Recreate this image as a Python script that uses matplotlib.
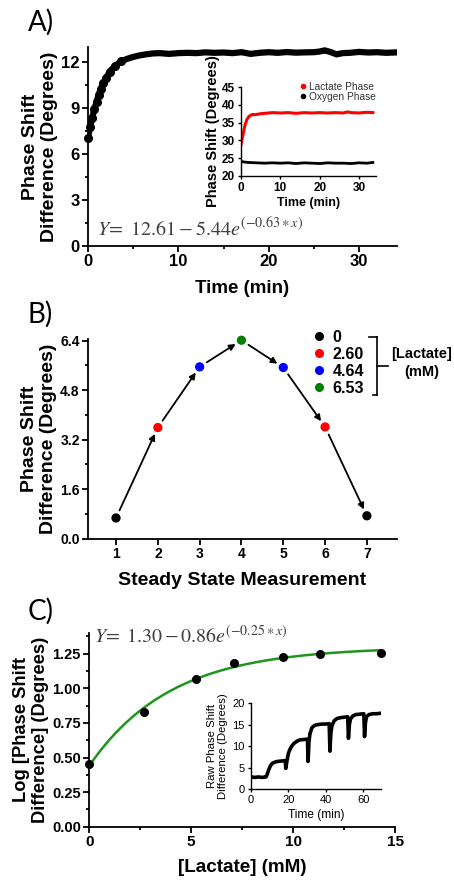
import numpy as np
import matplotlib
matplotlib.use("Agg")
import matplotlib.pyplot as plt
from matplotlib.lines import Line2D
from matplotlib.ticker import MultipleLocator, FormatStrFormatter

plt.rcParams['font.family'] = ['Liberation Sans', 'DejaVu Sans']
plt.rcParams['axes.labelweight'] = 'bold'
plt.rcParams['mathtext.fontset'] = 'stix'

# ---- panel A: phase shift difference vs time
time_a = [0, 0.22, 0.48, 0.7, 0.95, 1.17, 1.43, 1.68, 2.0, 2.4, 3.0, 3.7, 4.3, 5.0, 5.7,
          6.4, 7.2, 7.9, 9, 10, 11, 12, 13, 14, 15, 16, 17, 18, 19, 20, 21, 22, 23, 24,
          25, 25.6, 26.2, 26.8, 27.5, 28.2, 29, 30, 31, 32, 33, 34.2]
shift_a = [7.07, 7.78, 8.39, 8.93, 9.43, 9.87, 10.28, 10.63, 10.96, 11.39, 11.78, 12.07,
           12.22, 12.35, 12.45, 12.52, 12.58, 12.6, 12.55, 12.6, 12.62, 12.6, 12.65, 12.62,
           12.64, 12.6, 12.66, 12.55, 12.62, 12.66, 12.62, 12.67, 12.63, 12.65, 12.66, 12.7,
           12.78, 12.68, 12.52, 12.6, 12.62, 12.68, 12.64, 12.66, 12.62, 12.65]
fit_a = (12.61, 5.44, 0.63)  # Y = a - b*exp(-k*x)

# inset A: raw phases
time_lac = [0, 0.3, 0.7, 1.0, 1.5, 2.0, 2.5, 3.0, 3.5, 4, 5, 6, 7, 8, 10, 12, 14, 16, 18,
            20, 22, 24, 26, 27, 28, 30, 32, 33.5]
lac_phase = [28.8, 30.5, 32.7, 34.2, 35.9, 36.7, 37.1, 37.3, 37.2, 37.3, 37.5, 37.6, 37.7,
             37.8, 37.7, 37.8, 37.6, 37.8, 37.7, 37.8, 37.7, 37.8, 37.7, 38.0, 37.8, 37.7,
             37.9, 37.8]
time_oxy = [0, 1, 2, 4, 6, 8, 10, 12, 14, 16, 18, 20, 22, 24, 26, 28, 30, 32, 33.5]
oxy_phase = [24.1, 23.9, 23.8, 23.7, 23.6, 23.7, 23.6, 23.7, 23.5, 23.7, 23.6, 23.5, 23.7,
             23.6, 23.6, 23.5, 23.7, 23.6, 23.8]

# ---- panel B: steady state measurements
meas_b = [1, 2, 3, 4, 5, 6, 7]
shift_b = [0.67, 3.59, 5.55, 6.41, 5.53, 3.61, 0.74]
lactate_b = ['0', '2.60', '4.64', '6.53', '4.64', '2.60', '0']
lactate_levels = ['0', '2.60', '4.64', '6.53']
level_colors = {'0': 'black', '2.60': '#ff0000', '4.64': '#0000ff', '6.53': '#008000'}

# ---- panel C: log phase shift vs lactate
lactate_c = [0, 2.7, 5.25, 7.11, 9.49, 11.32, 14.31]
logshift_c = [0.455, 0.83, 1.064, 1.185, 1.23, 1.247, 1.255]
fit_c = (1.30, 0.86, 0.25)

# inset C: raw trace
time_raw = [0, 2, 4, 6, 8, 8.5, 9.5, 10.5, 11.5, 12.5, 14, 16, 18.3, 18.6, 19.2, 20, 21, 22,
            23, 24.5, 26, 28, 30.2, 30.5, 31, 31.5, 32.5, 34, 36, 38, 40, 41.8, 42.2, 42.7,
            43.3, 44.5, 46, 48, 50, 51.7, 52.1, 52.6, 53.2, 54.5, 56, 58, 60.3, 60.7, 61.2,
            61.8, 63, 65, 67, 69]
raw_shift = [2.8, 2.7, 2.8, 2.7, 2.8, 3.2, 4.5, 5.5, 6.0, 6.2, 6.4, 6.5, 6.6, 4.8, 6.5, 8.3,
             9.4, 10.1, 10.6, 11.1, 11.4, 11.5, 11.6, 6.4, 11.0, 12.8, 14.2, 14.8, 15.0, 15.1,
             15.1, 15.2, 8.8, 13.0, 14.8, 15.9, 16.4, 16.6, 16.7, 16.8, 11.8, 15.0, 16.3,
             17.0, 17.3, 17.4, 17.5, 12.2, 15.5, 16.8, 17.3, 17.5, 17.5, 17.6]

W, H = 454, 880
fig = plt.figure(figsize=(W / 100, H / 100), dpi=100)


def box(l, t, r, b):
    return [l / W, 1 - b / H, (r - l) / W, (b - t) / H]


def style(ax, size=10, lw=1.3, maj=4, mino=2.5, weight='bold'):
    for s in ['top', 'right']:
        ax.spines[s].set_visible(False)
    for s in ['left', 'bottom']:
        ax.spines[s].set_linewidth(lw)
    ax.tick_params(which='major', direction='out', length=maj, width=lw, labelsize=size, pad=2)
    ax.tick_params(which='minor', direction='out', length=mino, width=lw)
    for lab in ax.get_xticklabels() + ax.get_yticklabels():
        lab.set_fontweight(weight)


# ================= A
axA = fig.add_axes(box(88, 47, 397, 246))
xf = np.linspace(0, 34, 200)
axA.plot(xf, fit_a[0] - fit_a[1] * np.exp(-fit_a[2] * xf), color='#22b422', lw=1.5, zorder=1)
axA.plot(time_a, shift_a, color='black', lw=4.5, solid_capstyle='round', zorder=2)
axA.plot(time_a[:12], shift_a[:12], 'o', color='black', ms=5.5, zorder=3, clip_on=False)
axA.set_xlim(0, 34.2)
axA.set_ylim(0, 13)
axA.set_xticks([0, 10, 20, 30])
axA.xaxis.set_minor_locator(MultipleLocator(5))
axA.set_yticks([0, 3, 6, 9, 12])
axA.yaxis.set_minor_locator(MultipleLocator(1.5))
style(axA, size=12)
axA.set_ylabel('Phase Shift\nDifference (Degrees)', fontsize=14, linespacing=1.15, labelpad=2)
axA.set_xlabel('Time (min)', fontsize=13.5, labelpad=8)
axA.text(0.03, 0.05, r'$Y\!=\ 12.61-5.44e^{(-0.63\ast x)}$', transform=axA.transAxes,
         fontsize=14.5, color='#404040', va='baseline')

# inset A
axI = fig.add_axes(box(241, 87, 376, 176))
axI.plot(time_lac, lac_phase, color='#ff0000', lw=2.2, label='Lactate Phase')
axI.plot(time_oxy, oxy_phase, color='black', lw=2.0, label='Oxygen Phase')
axI.set_xlim(0, 34.3)
axI.set_ylim(20, 45)
axI.set_xticks([0, 10, 20, 30])
axI.set_yticks([20, 25, 30, 35, 40, 45])
style(axI, size=8.5, lw=1.0, maj=2.5, mino=1.5)
axI.set_ylabel('Phase Shift (Degrees)', fontsize=10.5, labelpad=1)
axI.set_xlabel('Time (min)', fontsize=9, labelpad=2)
hl = [Line2D([], [], ls='none', marker='o', ms=3, color='#ff0000'),
      Line2D([], [], ls='none', marker='o', ms=3, color='black')]
legI = axI.legend(hl, ['Lactate Phase', 'Oxygen Phase'], loc='upper right',
                  bbox_to_anchor=(1.0, 1.06), frameon=False,
                  handlelength=0.5, handletextpad=0.4, labelspacing=0.0, borderpad=0,
                  borderaxespad=0, prop={'weight': 'normal', 'size': 7.3})
for t in legI.get_texts():
    t.set_color('#333333')

# ================= B
axB = fig.add_axes(box(88, 339, 397, 538.7))
for i in range(len(meas_b) - 1):
    axB.annotate('', xy=(meas_b[i + 1], shift_b[i + 1]), xytext=(meas_b[i], shift_b[i]),
                 arrowprops=dict(arrowstyle='-|>', color='black', lw=1.3, shrinkA=6,
                                 shrinkB=5, mutation_scale=9))
axB.scatter(meas_b, shift_b, c=[level_colors[l] for l in lactate_b], s=32, zorder=3,
            clip_on=False)
axB.set_xlim(0.33, 7.72)
axB.set_ylim(0, 6.45)
axB.set_xticks(meas_b)
axB.set_yticks([0, 1.6, 3.2, 4.8, 6.4])
axB.yaxis.set_major_formatter(FormatStrFormatter('%.1f'))
axB.yaxis.set_minor_locator(MultipleLocator(0.8))
style(axB, size=10)
axB.set_ylabel('Phase Shift\nDifference (Degrees)', fontsize=14, linespacing=1.15, labelpad=2)
axB.set_xlabel('Steady State Measurement', fontsize=14, labelpad=8)
hb = [Line2D([], [], ls='none', marker='o', ms=5.5, color=level_colors[l]) for l in lactate_levels]
axB.legend(hb, lactate_levels, loc='upper left', bbox_to_anchor=(0.733, 1.045),
           frameon=False, handlelength=0.6, handletextpad=0.55,
           labelspacing=0.12, borderpad=0, borderaxespad=0,
           prop={'weight': 'bold', 'size': 11.5})
# bracket for the legend
bx = 377 / W
fig.add_artist(Line2D([bx, bx], [1 - 336.7 / H, 1 - 395 / H], color='black', lw=1.2))
fig.add_artist(Line2D([369 / W, bx], [1 - 336.7 / H] * 2, color='black', lw=1.2))
fig.add_artist(Line2D([372.5 / W, bx], [1 - 395 / H] * 2, color='black', lw=1.2))
fig.add_artist(Line2D([bx, 388 / W], [1 - 365.7 / H] * 2, color='black', lw=1.2))
fig.text(421.7 / W, 1 - 354.3 / H, '[Lactate]', fontsize=10.5, fontweight='bold',
         ha='center', va='center')
fig.text(421.7 / W, 1 - 371.7 / H, '(mM)', fontsize=10.5, fontweight='bold',
         ha='center', va='center')

# ================= C
axC = fig.add_axes(box(89.3, 633, 395, 826.7))
xc = np.linspace(0, max(lactate_c), 200)
axC.plot(xc, fit_c[0] - fit_c[1] * np.exp(-fit_c[2] * xc), color='#1e961e', lw=1.8, zorder=2)
axC.plot(lactate_c, logshift_c, 'o', color='black', ms=5.5, zorder=3, clip_on=False)
axC.set_xlim(0, 15)
axC.set_ylim(0, 1.4)
axC.set_xticks([0, 5, 10, 15])
axC.xaxis.set_minor_locator(MultipleLocator(2.5))
axC.set_yticks([0, 0.25, 0.5, 0.75, 1.0, 1.25])
axC.yaxis.set_major_formatter(FormatStrFormatter('%.2f'))
axC.yaxis.set_minor_locator(MultipleLocator(0.125))
style(axC, size=10.5)
axC.tick_params(axis='x', labelsize=11)
axC.set_ylabel('Log [Phase Shift\nDifference] (Degrees)', fontsize=13.2, linespacing=1.15,
               labelpad=2)
axC.set_xlabel('[Lactate] (mM)', fontsize=13.6, labelpad=7)
axC.text(0.015, 0.948, r'$Y\!=\ 1.30-0.86e^{(-0.25\ast x)}$', transform=axC.transAxes,
         fontsize=14.3, color='#404040', va='baseline')

# inset C
axD = fig.add_axes(box(251, 703, 381, 789))
axD.plot(time_raw, raw_shift, color='black', lw=2.6)
axD.set_xlim(0, 69.5)
axD.set_ylim(0, 20)
axD.set_xticks([0, 20, 40, 60])
axD.set_yticks([0, 5, 10, 15, 20])
style(axD, size=8, lw=1.0, maj=2.5, mino=1.5, weight='normal')
axD.set_ylabel('Raw Phase Shift\nDifference (Degrees)', fontsize=8.2, fontweight='normal',
               labelpad=3, linespacing=1.1)
axD.set_xlabel('Time (min)', fontsize=8.6, fontweight='normal', labelpad=3)

# panel letters
for lab, y in [('A)', 30.5), ('B)', 323), ('C)', 620)]:
    fig.text(28 / W, 1 - y / H, lab, fontsize=20, family=['Lato', 'DejaVu Sans'],
             fontweight='normal', va='baseline')

fig.savefig('out.png', dpi=100, facecolor='white')
